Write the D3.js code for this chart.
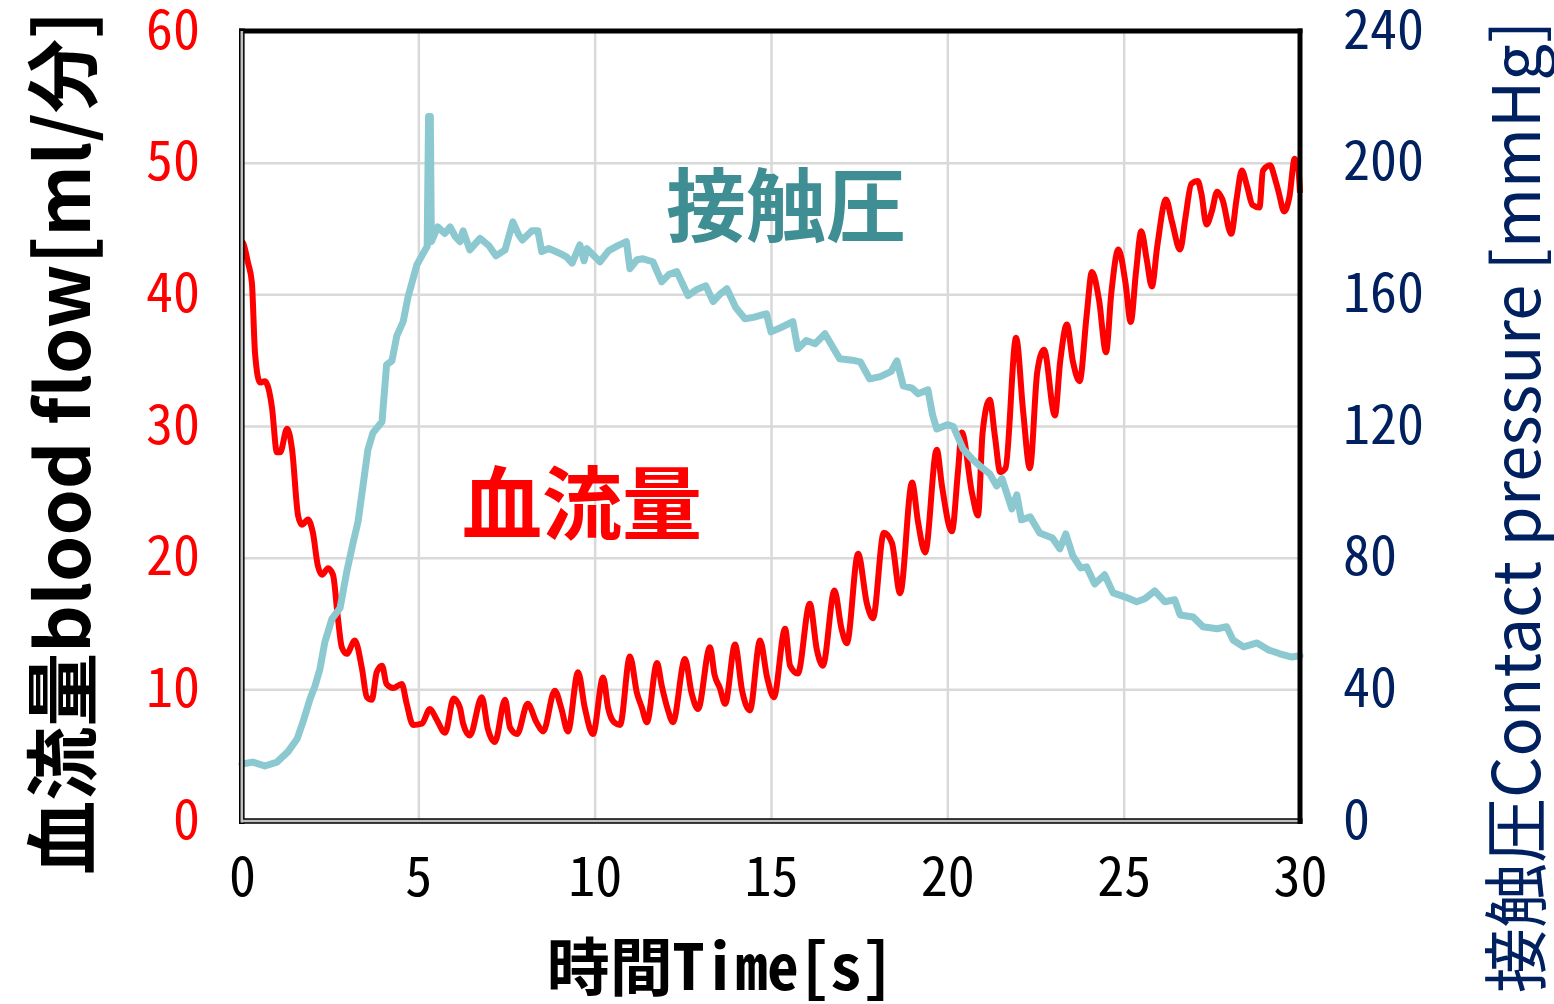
<!DOCTYPE HTML>
<html lang="ja">
	<head>
		<title>血流量と接触圧</title>
		<style type="text/css">
			body {
				margin: 0;
				background-color: rgb(255, 255, 255);
			}
			#display {
				width: 1554px;
				height: 1004px;
			}
		</style>
		<script src="https://d3js.org/d3.v7.min.js"></script>
		<script>

			// blood flow [ml/min], left axis
			var flowTime = [0, 0.03, 0.17, 0.28, 0.37, 0.51, 0.65, 0.85, 0.99, 1.08, 1.28, 1.42, 1.59, 1.7, 1.87, 2.01, 2.15, 2.27, 2.44, 2.58,
				2.72, 2.83, 2.97, 3.2, 3.4, 3.54, 3.68, 3.82, 3.97, 4.1, 4.29, 4.53, 4.67, 4.85, 5.1, 5.33, 5.52, 5.76, 6.0, 6.18,
				6.27, 6.46, 6.8, 6.97, 7.17, 7.46, 7.6, 7.8, 8.1, 8.35, 8.54, 8.87, 9.06, 9.24, 9.53, 9.72, 9.95, 10.24, 10.38, 10.55,
				10.72, 11.0, 11.2, 11.34, 11.48, 11.77, 11.9, 12.07, 12.22, 12.56, 12.75, 12.93, 13.27, 13.4, 13.55, 13.7, 13.98, 14.18, 14.4, 14.69,
				14.89, 15.08, 15.4, 15.54, 15.76, 16.1, 16.3, 16.47, 16.8, 17.0, 17.15, 17.47, 17.72, 17.89, 18.2, 18.43, 18.66, 19.0, 19.17, 19.37,
				19.7, 19.85, 20.13, 20.3, 20.41, 20.7, 20.87, 21.0, 21.2, 21.35, 21.5, 21.65, 21.95, 22.15, 22.34, 22.55, 22.74, 23.05, 23.2, 23.39,
				23.56, 23.75, 23.95, 24.1, 24.3, 24.5, 24.65, 24.85, 25.05, 25.2, 25.35, 25.5, 25.65, 25.8, 25.95, 26.2, 26.37, 26.6, 26.75, 26.92,
				27.1, 27.2, 27.35, 27.5, 27.65, 27.8, 28.05, 28.2, 28.35, 28.5, 28.65, 28.85, 28.95, 29.15, 29.3, 29.4, 29.55, 29.7, 29.85, 29.95, 30];
			var flowValue = [44, 43.9, 42.4, 40.9, 35.5, 33.3, 33.4, 31.4, 28, 28, 29.8, 28.2, 23.2, 22.5, 22.9, 21.9, 19.4, 18.7, 19.2, 18.7,
				15.4, 13.2, 12.7, 13.7, 11.6, 9.4, 9.2, 11.3, 11.8, 10.4, 10.1, 10.4, 8.9, 7.3, 7.4, 8.5, 7.7, 6.7, 9.3, 8.6,
				7.4, 6.5, 9.4, 7.0, 6.0, 9.2, 7.1, 6.6, 8.9, 7.5, 6.8, 9.9, 8.5, 6.8, 11.3, 8.6, 6.6, 10.9, 8.6, 7.5,
				7.3, 12.5, 9.7, 8.6, 7.5, 12.0, 10.3, 8.5, 7.5, 12.3, 9.7, 8.5, 13.2, 11.1, 10.1, 8.9, 13.4, 9.9, 8.4, 13.7,
				10.9, 9.4, 14.6, 11.8, 11.2, 16.5, 13.0, 11.8, 17.5, 14.6, 13.5, 20.3, 16.5, 15.4, 21.9, 21.1, 17.3, 25.7, 22.7, 20.4,
				28.2, 25.4, 22.0, 26.5, 29.5, 24.9, 23.2, 29.5, 32.0, 29.2, 26.5, 26.8, 36.7, 31.1, 26.8, 34.1, 35.8, 30.8, 34.9, 37.7,
				34.9, 33.4, 38.4, 41.7, 39.6, 35.6, 40.1, 43.4, 40.9, 37.9, 41.7, 44.8, 42.7, 40.6, 43.6, 47.2, 45.5, 43.4, 45.8, 48.4,
				48.6, 47.7, 45.3, 46.3, 47.8, 47.2, 44.6, 47.2, 49.4, 48.2, 46.8, 46.6, 49.4, 49.8, 48.7, 47.7, 46.3, 47.4, 50.3, 49.6, 47.7];

			// contact pressure [mmHg], right axis
			var pressureTime = [0, 0.3, 0.65, 0.99, 1.3, 1.56, 1.73, 1.93, 2.07, 2.21, 2.35, 2.55, 2.78, 2.97, 3.15, 3.29, 3.43, 3.57, 3.71, 3.97,
				4.1, 4.25, 4.39, 4.57, 4.71, 4.96, 5.13, 5.25, 5.29, 5.34, 5.37, 5.55, 5.75, 5.9, 6.05, 6.18, 6.27, 6.46, 6.75, 7.0,
				7.2, 7.46, 7.68, 7.85, 7.95, 8.22, 8.39, 8.5, 8.7, 9.0, 9.2, 9.36, 9.58, 9.7, 9.78, 10.0, 10.15, 10.4, 10.66, 10.9,
				11.0, 11.2, 11.37, 11.65, 11.9, 12.1, 12.33, 12.5, 12.65, 12.9, 13.15, 13.36, 13.55, 13.75, 14.0, 14.26, 14.5, 14.87, 15.0, 15.3,
				15.62, 15.76, 16.0, 16.25, 16.53, 16.75, 16.95, 17.3, 17.53, 17.8, 18.1, 18.4, 18.57, 18.75, 19.0, 19.17, 19.45, 19.58, 19.7, 20.0,
				20.17, 20.45, 20.7, 20.95, 21.2, 21.4, 21.55, 21.83, 21.97, 22.1, 22.35, 22.62, 22.98, 23.19, 23.36, 23.56, 23.78, 23.95, 24.18, 24.46,
				24.7, 25.03, 25.37, 25.6, 25.88, 26.17, 26.45, 26.6, 26.97, 27.25, 27.65, 27.92, 28.1, 28.4, 28.78, 29.1, 29.43, 29.77, 30];
			var pressureValue = [17.3, 17.9, 16.7, 17.9, 21, 24.9, 30.1, 37.1, 41, 46.2, 54.4, 61.4, 64.7, 75.7, 84.5, 90.9, 101.8, 112.8, 117.9, 121.3,
				138.6, 139.8, 147.4, 151.7, 159.3, 169, 172.3, 174.5, 214, 214, 176, 180.5, 178.5, 180.5, 177.5, 176, 179.3, 173.5, 177, 174.8,
				171.7, 173.5, 182, 178, 176.5, 179.3, 179.3, 173, 173.9, 172.5, 171.4, 169.5, 175, 170.2, 173.9, 171.5, 169.9, 173.3, 174.8, 176,
				167.8, 170.5, 170.8, 169.9, 163.8, 166, 166.9, 163, 159.6, 161.5, 162.6, 157.8, 160, 161.7, 156, 152.6, 153, 154.1, 148.6, 150,
				151.7, 143.5, 146, 145, 148, 144, 140.4, 140, 139.5, 134.3, 135, 136.5, 139.8, 132.2, 131.5, 129.8, 131, 123.4, 119.1, 120.4,
				119.8, 113, 110, 107.6, 105.5, 101.8, 104, 94.8, 99.1, 91.5, 92.4, 87.5, 86, 82.7, 87.2, 80.5, 76.9, 77.2, 72, 74.8,
				69.3, 68.1, 66.6, 67.5, 69.9, 66.6, 67.2, 62.6, 62, 59, 58.4, 59, 55, 52.9, 54.1, 52, 50.8, 49.8, 50.2];

			var xTicks = [0, 5, 10, 15, 20, 25, 30];
			var flowTicks = [0, 10, 20, 30, 40, 50, 60];
			var pressureTicks = [0, 40, 80, 120, 160, 200, 240];

			var monoFont = "'Noto Sans Mono CJK JP', 'Noto Sans CJK JP', sans-serif";
			var gothicFont = "'Noto Sans CJK JP', sans-serif";

			function init()
			{
				var svg = d3.select("#display").append("svg")
					.attr("width", 1554)
					.attr("height", 1004);

				svg.append("rect").attr("width", 1554).attr("height", 1004).attr("fill", "#ffffff");

				var x = d3.scaleLinear().domain([0, 30]).range([242, 1300]);
				var yFlow = d3.scaleLinear().domain([0, 60]).range([821, 31]);
				var yPressure = d3.scaleLinear().domain([0, 240]).range([821, 31]);

				// grid
				svg.append("g")
					.attr("transform", "translate(0,821)")
					.call(d3.axisBottom(x).tickValues(xTicks.slice(1, -1)).tickSize(-790).tickFormat(""))
					.call(function(g) { g.select(".domain").remove(); })
					.selectAll("line").attr("stroke", "#d9d9d9").attr("stroke-width", 2.5);
				svg.append("g")
					.attr("transform", "translate(242,0)")
					.call(d3.axisLeft(yFlow).tickValues(flowTicks.slice(1, -1)).tickSize(-1058).tickFormat(""))
					.call(function(g) { g.select(".domain").remove(); })
					.selectAll("line").attr("stroke", "#d9d9d9").attr("stroke-width", 2.5);

				// series
				var flowLine = d3.line()
					.x(function(d, i) { return x(flowTime[i]); })
					.y(function(d) { return yFlow(d); })
					.curve(d3.curveMonotoneX);
				var pressureLine = d3.line()
					.x(function(d, i) { return x(pressureTime[i]); })
					.y(function(d) { return yPressure(d); });

				svg.append("path")
					.attr("d", flowLine(flowValue))
					.attr("fill", "none")
					.attr("stroke", "#ff0000")
					.attr("stroke-width", 6)
					.attr("stroke-linejoin", "round");
				svg.append("path")
					.attr("d", pressureLine(pressureValue))
					.attr("fill", "none")
					.attr("stroke", "#8cc8cf")
					.attr("stroke-width", 7)
					.attr("stroke-linejoin", "round")
					.attr("stroke-linecap", "round");

				// frame
				svg.append("line").attr("x1", 239).attr("x2", 1302.5).attr("y1", 31).attr("y2", 31)
					.attr("stroke", "#000").attr("stroke-width", 5);
				svg.append("line").attr("x1", 1300).attr("x2", 1300).attr("y1", 28.5).attr("y2", 824)
					.attr("stroke", "#000").attr("stroke-width", 5);
				svg.append("line").attr("x1", 241.8).attr("x2", 241.8).attr("y1", 28.5).attr("y2", 824)
					.attr("stroke", "#000").attr("stroke-width", 5.6);
				svg.append("line").attr("x1", 239).attr("x2", 1302.5).attr("y1", 821).attr("y2", 821)
					.attr("stroke", "#000").attr("stroke-width", 5.6);
				svg.append("line").attr("x1", 241.8).attr("x2", 241.8).attr("y1", 31).attr("y2", 822.5)
					.attr("stroke", "#c0c0c0").attr("stroke-width", 2.6);
				svg.append("line").attr("x1", 241).attr("x2", 1297.5).attr("y1", 821).attr("y2", 821)
					.attr("stroke", "#c0c0c0").attr("stroke-width", 2.6);

				// tick labels
				var xAxis = svg.append("g")
					.attr("transform", "translate(0,821)")
					.call(d3.axisBottom(x).tickValues(xTicks).tickSize(0).tickPadding(37));
				var leftAxis = svg.append("g")
					.attr("transform", "translate(242,0)")
					.call(d3.axisLeft(yFlow).tickValues(flowTicks).tickSize(0).tickPadding(42));
				var rightAxis = svg.append("g")
					.attr("transform", "translate(1300,0)")
					.call(d3.axisRight(yPressure).tickValues(pressureTicks).tickSize(0).tickPadding(43));

				[xAxis, leftAxis, rightAxis].forEach(function(g) {
					g.select(".domain").remove();
					g.selectAll("text").attr("font-family", monoFont).attr("font-size", 54);
				});
				xAxis.selectAll("text").attr("fill", "#000");
				leftAxis.selectAll("text").attr("fill", "#ff0000");
				rightAxis.selectAll("text").attr("fill", "#002060");

				// axis titles
				svg.append("text")
					.attr("x", 720).attr("y", 962)
					.attr("text-anchor", "middle")
					.attr("dominant-baseline", "central")
					.attr("font-family", monoFont)
					.attr("font-weight", "bold")
					.attr("font-size", 63)
					.attr("fill", "#000")
					.text("時間Time[s]");
				svg.append("text")
					.attr("transform", "translate(57,443) rotate(-90)")
					.attr("text-anchor", "middle")
					.attr("dominant-baseline", "central")
					.attr("font-family", gothicFont)
					.attr("font-weight", "bold")
					.attr("font-size", 74)
					.attr("fill", "#000")
					.text("血流量blood flow[ml/分]");
				svg.append("text")
					.attr("transform", "translate(1512,507) rotate(-90)")
					.attr("text-anchor", "middle")
					.attr("dominant-baseline", "central")
					.attr("font-family", gothicFont)
					.attr("font-size", 65)
					.attr("fill", "#002060")
					.text("接触圧Contact pressure [mmHg]");

				// series names inside the plot
				svg.append("text")
					.attr("x", 786).attr("y", 200)
					.attr("text-anchor", "middle")
					.attr("dominant-baseline", "central")
					.attr("font-family", gothicFont)
					.attr("font-weight", "bold")
					.attr("font-size", 80)
					.attr("fill", "#3f8e93")
					.text("接触圧");
				svg.append("text")
					.attr("x", 582).attr("y", 498)
					.attr("text-anchor", "middle")
					.attr("dominant-baseline", "central")
					.attr("font-family", gothicFont)
					.attr("font-weight", "bold")
					.attr("font-size", 80)
					.attr("fill", "#ff0000")
					.text("血流量");
			}

		</script>
	</head>

	<body onload="init()">
		<div id="display"></div>
	</body>
</html>
